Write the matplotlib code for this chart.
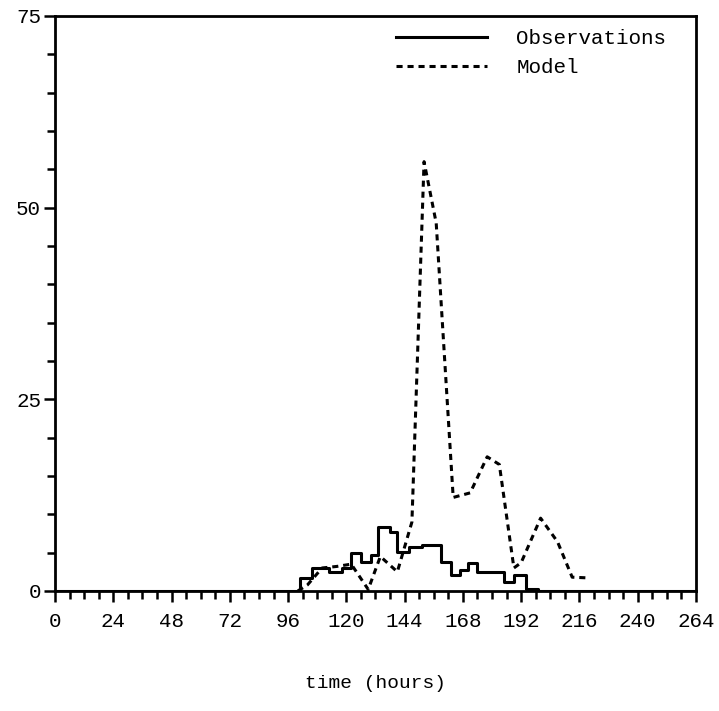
import numpy as np
import matplotlib.pyplot as plt
from matplotlib.ticker import MultipleLocator

# observations (step values, hour where each step starts)
obs_hours = [0, 101, 106, 113, 118, 122, 126, 130, 133, 138, 141, 146, 151, 159, 163, 167, 170, 174, 185, 189, 194, 199, 264]
obs_values = [0, 1.7, 3.0, 2.5, 3.0, 5.0, 3.8, 4.7, 8.4, 7.7, 5.1, 5.8, 6.0, 3.8, 2.1, 2.7, 3.7, 2.5, 1.2, 2.1, 0.3, 0, 0]

# model curve
model_hours = [100, 104, 110, 116, 122, 129, 134, 141, 147, 152, 157, 164, 171, 178, 183, 189, 192, 200, 207, 213, 220]
model_values = [0, 0.8, 3.0, 3.2, 3.5, 0.2, 4.5, 2.5, 9.0, 56, 48, 12.2, 12.8, 17.5, 16.5, 3.0, 3.7, 9.5, 6.4, 1.8, 1.7]

plt.rcParams['font.family'] = ['Liberation Mono', 'DejaVu Sans Mono']

fig = plt.figure(figsize=(7.19, 7.11), dpi=100)
ax = fig.add_axes([0.0765, 0.1688, 0.8915, 0.8087])

ax.step(obs_hours, obs_values, where='post', color='black', lw=2.2, label='Observations')
ax.plot(model_hours, model_values, color='black', lw=2.2, dashes=(2, 1.6), label='Model')

ax.set_xlim(0, 264)
ax.set_ylim(0, 75)
ax.xaxis.set_major_locator(MultipleLocator(24))
ax.xaxis.set_minor_locator(MultipleLocator(6))
ax.yaxis.set_major_locator(MultipleLocator(25))
ax.yaxis.set_minor_locator(MultipleLocator(5))
ax.tick_params(axis='both', which='major', length=8, width=1.8, labelsize=15, pad=7)
ax.tick_params(axis='both', which='minor', length=6, width=1.8)
ax.tick_params(axis='y', which='major', pad=2)
for s in ax.spines.values():
    s.set_linewidth(2)

ax.set_xlabel('time (hours)', fontsize=14, labelpad=32)

ax.legend(loc='upper right', bbox_to_anchor=(0.983, 1.01), frameon=False, fontsize=15,
          handlelength=4.4, handletextpad=1.4, labelspacing=0.5)

fig.savefig('out.png', dpi=100)
